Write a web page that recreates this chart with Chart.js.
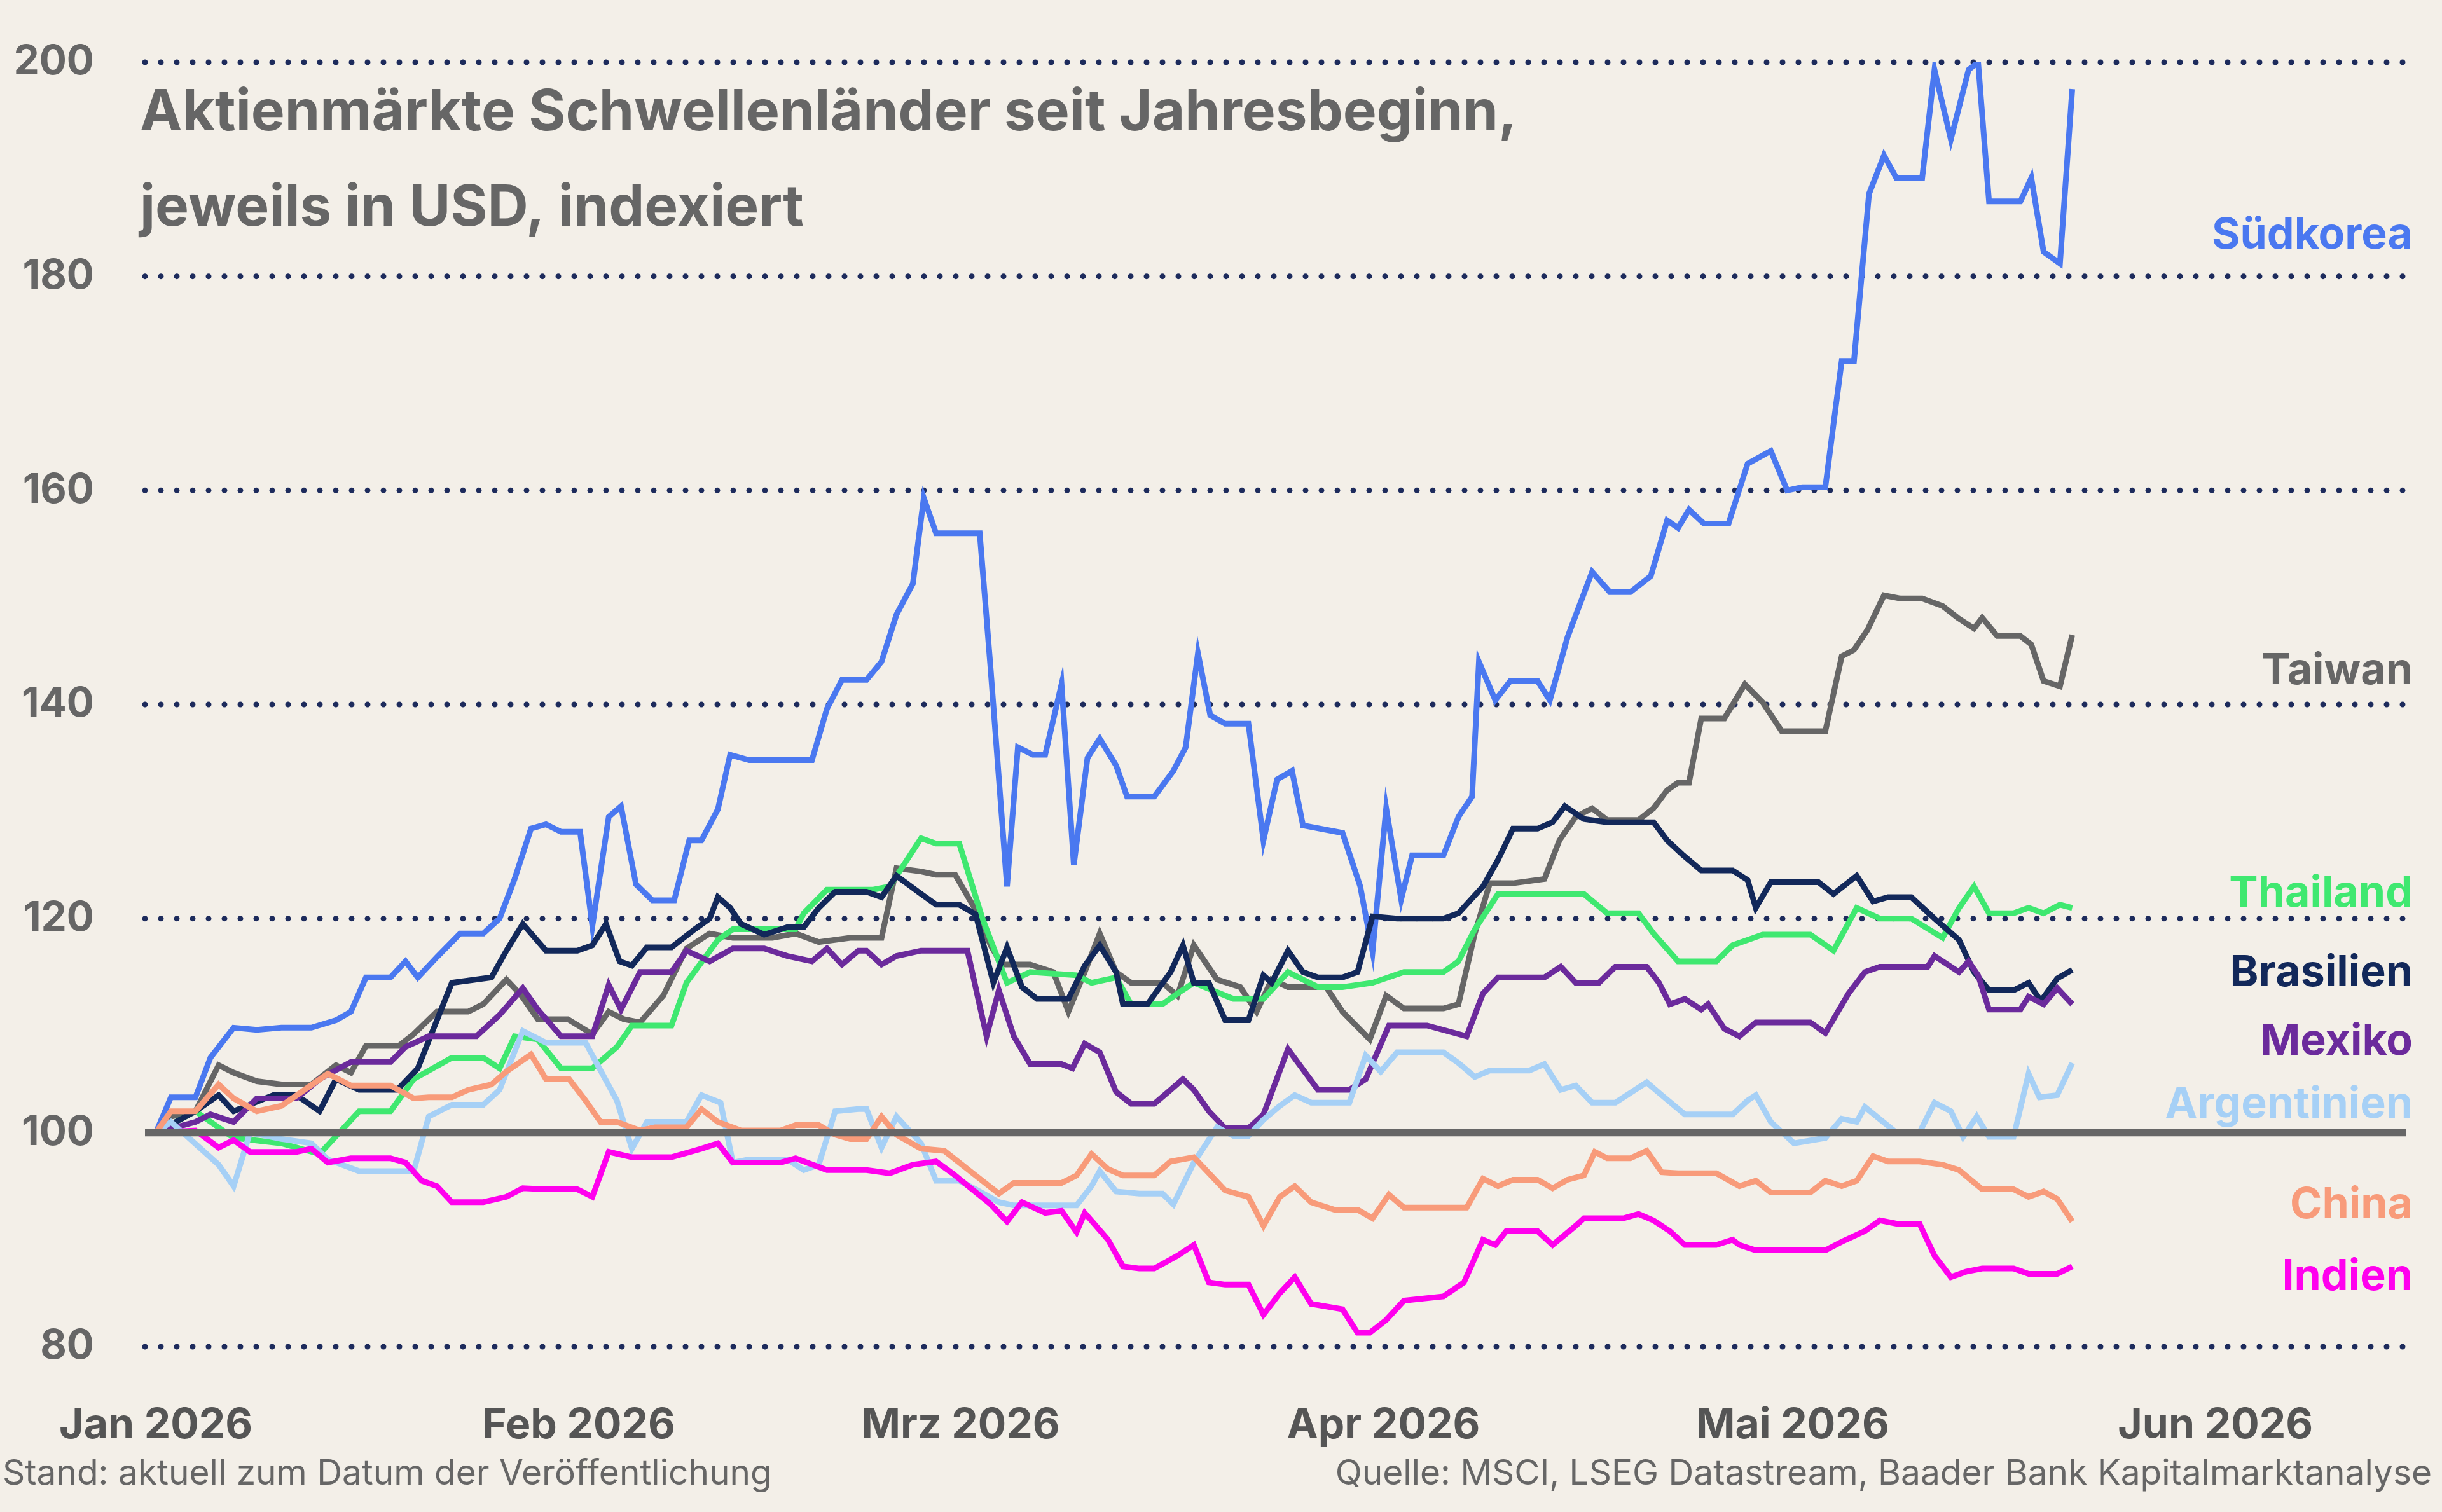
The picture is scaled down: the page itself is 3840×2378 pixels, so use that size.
<!DOCTYPE html>
<html>
<head>
<meta charset="utf-8">
<script src="https://cdn.jsdelivr.net/npm/chart.js@4"></script>
<style>
  html, body { margin: 0; padding: 0; background: #f3efe8; }
  canvas { display: block; }
</style>
</head>
<body>
<canvas id="chart" width="3840" height="2378"></canvas>
<script>
// x = Tage seit 1. Jan 2026, y = Index (Jahresbeginn = 100)
var monthDays = [0, 31, 59, 90, 120, 151];
var monthLabels = ['Jan 2026', 'Feb 2026', 'Mrz 2026', 'Apr 2026', 'Mai 2026', 'Jun 2026'];
var yTicks = [80, 100, 120, 140, 160, 180, 200];

var suedkorea = [[0,100],[1.1,103.3],[2.9,103.3],[4,107],[5.7,109.8],[7.4,109.6],[9.2,109.8],[11.4,109.8],[13.2,110.5],[14.3,111.3],[15.4,114.5],[17.2,114.5],[18.3,116],[19.2,114.5],[20.6,116.4],[22.3,118.6],[24,118.6],[25.2,120],[26.3,123.7],[27.5,128.4],[28.6,128.8],[29.7,128.1],[31.1,128.1],[32,119.3],[33.2,129.5],[34.1,130.5],[35.2,123.2],[36.4,121.7],[38,121.7],[39.1,127.3],[40,127.3],[41.2,130.2],[42.1,135.3],[43.5,134.8],[48.1,134.8],[49.2,139.6],[50.3,142.3],[52.1,142.3],[53.2,144],[54.3,148.4],[55.5,151.3],[56.3,159.3],[57.2,156],[60.4,156],[61.2,143.3],[62.4,123],[63.2,136],[64.3,135.3],[65.2,135.3],[66.4,141.9],[67.3,125],[68.3,135],[69.2,136.8],[70.4,134.3],[71.2,131.4],[73.2,131.4],[74.6,133.8],[75.5,136],[76.4,144.8],[77.3,139],[78.4,138.2],[80.1,138.2],[81.2,127.3],[82.2,133],[83.3,133.8],[84.1,128.7],[87,128],[88.3,123],[89.2,116.9],[90.2,130.3],[91.3,121.8],[92.1,125.9],[94.4,125.9],[95.5,129.5],[96.5,131.4],[97,144],[98.2,140.4],[99.3,142.2],[101.3,142.2],[102.2,140.4],[103.5,146.3],[105.3,152.4],[106.6,150.5],[108.1,150.5],[109.6,152],[110.8,157.2],[111.6,156.5],[112.4,158.2],[113.5,156.9],[115.3,156.9],[116.7,162.5],[118.4,163.7],[119.6,160],[120.7,160.3],[122.4,160.3],[123.6,172.1],[124.5,172.1],[125.6,187.7],[126.7,191.3],[127.6,189.2],[129.5,189.2],[130.4,199.3],[131.6,192.8],[132.9,199.3],[133.6,200],[134.4,187],[136.7,187],[137.5,189.2],[138.4,182.3],[139.6,181.2],[140.5,197.5]];

var taiwan = [[0,100],[1.1,101.5],[2.9,102],[4.6,106.3],[5.7,105.6],[7.4,104.8],[9.2,104.5],[11.4,104.5],[13.2,106.3],[14.3,105.6],[15.4,108.1],[17.8,108.1],[18.9,109.2],[20.6,111.3],[22.9,111.3],[24,112],[25.7,114.3],[26.8,112.8],[28,110.6],[30.2,110.6],[32,109.2],[33.2,111.3],[34.3,110.6],[35.5,110.3],[37.2,112.8],[38.9,117.2],[40.6,118.6],[42.3,118.2],[45.2,118.2],[46.9,118.6],[48.6,117.8],[50.9,118.2],[53.2,118.2],[54.3,124.7],[56.1,124.4],[57.2,124.1],[58.6,124.1],[60.1,120.8],[61.2,117.5],[62,115.7],[64.1,115.7],[65.8,115],[66.9,111.3],[68.1,115],[69.2,118.6],[70.4,115],[71.5,114],[73.8,114],[74.9,112.8],[76.1,117.5],[77.8,114.3],[79.5,113.6],[80.7,111.3],[81.8,114.3],[83,113.6],[85.8,113.6],[87,111.3],[89,108.7],[90.2,112.8],[91.5,111.6],[94.4,111.6],[95.5,112],[96.7,118.6],[97.8,123.3],[99.5,123.3],[101.8,123.7],[102.9,127.3],[104.1,129.5],[105.3,130.3],[106.4,129.2],[108.7,129.2],[109.8,130.3],[110.8,132],[111.6,132.7],[112.4,132.7],[113.3,138.7],[115,138.7],[116.5,141.9],[117.8,140.2],[119.2,137.5],[122.4,137.5],[123.6,144.5],[124.5,145.1],[125.5,147],[126.7,150.2],[127.9,149.9],[129.5,149.9],[131,149.2],[132.1,148.1],[133.3,147.1],[133.9,148.1],[135,146.4],[136.7,146.4],[137.5,145.6],[138.4,142.2],[139.6,141.7],[140.5,146.5]];

var thailand = [[0,100],[2.9,102],[5.7,99.5],[9.2,99],[12,98],[14.9,102],[17.2,102],[18.9,105],[21.7,107],[24,107],[25.2,106],[26.3,109],[28,108.7],[29.7,106],[32,106],[33.8,108],[34.9,110],[37.8,110],[38.9,114],[41.2,118],[42.3,119],[46.9,119],[47.5,120.5],[49.2,122.7],[52.6,122.7],[53.8,123],[56.1,127.5],[57.2,127],[58.9,127],[60.6,120],[62.4,114],[64.1,115],[67.5,114.7],[68.6,114],[70.4,114.5],[71.5,112],[73.8,112],[74.9,113],[76.1,114],[79,112.5],[81.2,112.5],[83,115],[85.2,113.6],[87,113.6],[89.2,114],[91.5,115],[94.4,115],[95.5,116],[96.7,119],[98.4,122.3],[104.7,122.3],[106.4,120.5],[108.7,120.5],[109.8,118.6],[111.6,116],[114.4,116],[115.6,117.5],[117.8,118.5],[121.3,118.5],[123,117],[124.7,121],[126.4,120],[128.7,120],[131,118.2],[132.2,121],[133.3,123],[134.4,120.5],[136.2,120.5],[137.3,121],[138.4,120.5],[139.6,121.3],[140.5,121]];

var brasilien = [[0,100],[2.9,102],[4.6,103.5],[5.7,102],[8.6,103.5],[10.3,103.5],[12,102],[13.2,105],[14.9,104],[17.7,104],[19.2,106],[20.6,110.5],[21.7,114],[24.6,114.5],[25.7,117],[26.9,119.5],[28.6,117],[30.9,117],[32,117.5],[33,119.5],[34,116],[34.9,115.6],[36,117.3],[37.8,117.3],[39.5,119],[40.6,120],[41.2,122],[42.1,121],[42.9,119.5],[44.6,118.5],[46.3,119.2],[47.5,119.2],[48.6,121],[49.8,122.5],[52.1,122.5],[53.2,122],[54.3,124],[56.1,122.3],[57.2,121.3],[58.9,121.3],[60.1,120.4],[61.4,114],[62.4,117.3],[63.5,113.6],[64.6,112.5],[66.9,112.5],[68.1,115.6],[69.2,117.5],[70.4,115],[70.9,112],[72.7,112],[74.4,115],[75.3,117.5],[76.1,114],[77.2,114],[78.4,110.5],[80.1,110.5],[81.2,114.7],[81.8,114],[83,117],[84.1,115],[85.2,114.5],[87,114.5],[88.1,115],[89.2,120.2],[91,120],[94.4,120],[95.5,120.5],[97.3,123],[98.4,125.5],[99.5,128.4],[101.3,128.4],[102.4,129],[103.3,130.5],[104.7,129.3],[106.4,129],[109.8,129],[110.8,127.3],[111.9,126],[113.3,124.5],[115.6,124.5],[116.7,123.6],[117.3,121],[118.4,123.4],[121.9,123.4],[123,122.3],[124.7,124],[125.9,121.6],[127,122],[128.7,122],[130.4,120],[132.2,118],[133.3,115],[134.4,113.3],[136.2,113.3],[137.3,114],[138.2,112.3],[139.4,114.4],[140.5,115.2]];

var mexiko = [[0,100],[2.9,101],[4,101.7],[5.7,101],[7.4,103.2],[10.3,103.2],[12,105],[14.3,106.6],[17.2,106.6],[18.3,108],[20,109],[23.5,109],[25.2,111],[26.9,113.5],[28,111.5],[29.7,109],[32,109],[33.2,113.8],[34.1,111.5],[35.5,115],[37.8,115],[38.9,117],[40.6,116],[42.3,117.2],[44.6,117.2],[46.3,116.5],[48.1,116],[49.2,117.2],[50.3,115.7],[51.5,117],[52.1,117],[53.2,115.7],[54.3,116.5],[56.1,117],[59.5,117],[60.9,109],[61.8,113.3],[62.9,109],[64.1,106.4],[66.4,106.4],[67.2,106],[68.1,108.3],[69.2,107.5],[70.4,103.8],[71.5,102.7],[73.2,102.7],[74.4,104],[75.3,105],[76.1,104],[77.2,102],[78.4,100.4],[80.1,100.4],[81.2,101.7],[83,107.8],[85.2,104],[87.5,104],[88.7,105],[90.4,110],[93.2,110],[96.1,109],[97.3,113],[98.4,114.5],[101.8,114.5],[103,115.5],[104.1,114],[105.8,114],[107,115.5],[109.3,115.5],[110.2,114],[111,112],[112.1,112.5],[113.3,111.5],[113.8,112],[115,109.7],[116.1,109],[117.3,110.3],[121.3,110.3],[122.4,109.3],[124.1,113],[125.3,115],[126.4,115.5],[129.9,115.5],[130.4,116.5],[132.2,115],[132.9,116],[133.6,114.7],[134.4,111.5],[136.7,111.5],[137.3,112.7],[138.4,112],[139.4,113.5],[140.5,112]];

var argentinien = [[0,100],[1.1,101],[4.6,97],[5.7,95],[6.9,100],[9.2,99.4],[11.4,99],[12.6,97.5],[14.9,96.4],[18.9,96.4],[20,101.5],[21.7,102.6],[24,102.6],[25.2,104],[26.9,109.5],[28.6,108.4],[31.5,108.4],[32.6,105.8],[33.8,103],[34.9,98.5],[36,101],[38.9,101],[40,103.5],[41.4,102.8],[42.3,97.2],[43.5,97.5],[46.3,97.5],[47.5,96.5],[48.6,97],[49.8,102],[51.5,102.2],[52.1,102.2],[53.2,98.6],[54.3,101.5],[56.1,99],[57.2,95.5],[58.9,95.5],[60.1,94.7],[61.8,93.5],[62.9,93.2],[67.5,93.2],[68.6,95],[69.2,96.4],[70.4,94.5],[72.1,94.3],[73.8,94.3],[74.6,93.3],[76.1,97.2],[77.8,100.5],[79,99.7],[80.1,99.7],[81.2,101.2],[82.4,102.5],[83.5,103.5],[84.7,102.8],[87.5,102.8],[88.7,107.2],[89.8,105.7],[91,107.5],[94.4,107.5],[95.5,106.5],[96.7,105.2],[97.8,105.8],[100.7,105.8],[101.8,106.4],[103,104],[104.1,104.4],[105.3,102.8],[107,102.8],[109.3,104.7],[110.4,103.5],[112.1,101.7],[115.6,101.7],[116.7,103],[117.3,103.5],[118.4,101],[120.1,99],[122.4,99.5],[123.6,101.3],[124.7,101],[125.3,102.4],[127.6,100],[129.3,100],[130.4,102.8],[131.6,102],[132.5,99.6],[133.5,101.5],[134.4,99.6],[136.2,99.6],[137.3,105.5],[138.1,103.3],[139.4,103.5],[140.5,106.5]];

var china = [[0,100],[1.1,102],[2.9,102],[4.6,104.5],[5.7,103.2],[7.4,102],[9.2,102.5],[10.9,104],[12.6,105.5],[14.3,104.4],[17.2,104.4],[18.9,103.2],[20,103.3],[21.7,103.3],[22.9,104],[24.6,104.5],[25.7,105.7],[27.5,107.3],[28.6,105],[30.3,105],[31.5,103],[32.6,101],[33.8,101],[35.5,100.2],[36.6,100.5],[38.9,100.5],[40,102.2],[41.2,101],[42.9,100.2],[45.8,100.2],[46.9,100.7],[48.6,100.7],[49.8,99.8],[50.9,99.4],[52.1,99.4],[53.2,101.5],[54.3,99.8],[56.1,98.5],[57.8,98.3],[60.1,96],[61.8,94.3],[62.9,95.3],[66.4,95.3],[67.5,96],[68.6,98],[69.8,96.6],[70.9,96],[73.2,96],[74.4,97.3],[76.1,97.7],[78.4,94.6],[80.1,94],[81.2,91.3],[82.4,94],[83.5,95],[84.7,93.5],[86.4,92.8],[88.1,92.8],[89.2,92],[90.4,94.2],[91.5,93],[93.2,93],[96.1,93],[97.3,95.7],[98.4,95],[99.5,95.6],[101.3,95.6],[102.4,94.8],[103.5,95.6],[104.7,96],[105.5,98.2],[106.4,97.6],[108.1,97.6],[109.3,98.3],[110.4,96.3],[111.6,96.2],[114.4,96.2],[116.1,95],[117.3,95.5],[118.4,94.4],[121.3,94.4],[122.4,95.5],[123.6,95],[124.7,95.5],[125.9,97.8],[127,97.3],[129.3,97.3],[131,97],[132.2,96.5],[133.9,94.7],[136.2,94.7],[137.3,94],[138.4,94.5],[139.4,93.8],[140.5,91.7]];

var indien = [[0,100],[2.9,100.2],[4.6,98.6],[5.7,99.3],[6.9,98.2],[10.3,98.2],[11.4,98.5],[12.6,97.2],[14.3,97.6],[17.2,97.6],[18.3,97.2],[19.5,95.5],[20.6,95],[21.7,93.5],[24,93.5],[25.7,94],[26.9,94.8],[28.6,94.7],[30.9,94.7],[32,94],[33.2,98.2],[34.9,97.7],[37.8,97.7],[40,98.5],[41.2,99],[42.3,97.2],[45.8,97.2],[46.9,97.6],[49.2,96.5],[52.1,96.5],[53.8,96.2],[55.5,97],[57.2,97.3],[58.4,96.2],[61.2,93.3],[62.4,91.7],[63.5,93.5],[65.2,92.5],[66.4,92.7],[67.5,90.7],[68.1,92.5],[69.8,90],[70.9,87.5],[72.1,87.3],[73.2,87.3],[74.9,88.5],[76.1,89.5],[77.2,86],[78.4,85.8],[80.1,85.8],[81.2,83],[82.4,85],[83.5,86.5],[84.7,84],[87,83.5],[88.1,81.3],[89,81.3],[90.2,82.5],[91.5,84.3],[94.4,84.7],[95.9,86],[97.3,90],[98.2,89.5],[99,90.8],[101.3,90.8],[102.4,89.5],[104.1,91.3],[104.7,92],[107.6,92],[108.7,92.4],[109.8,91.8],[111,90.8],[112.1,89.5],[114.4,89.5],[115.6,90],[116.1,89.5],[117.3,89],[122.4,89],[123.6,89.8],[125.3,90.8],[126.4,91.8],[127.6,91.5],[129.3,91.5],[130.4,88.5],[131.6,86.5],[132.7,87],[133.9,87.3],[136.2,87.3],[137.3,86.8],[139.4,86.8],[140.5,87.5]];

var seriesNames = ['Südkorea', 'Taiwan', 'Thailand', 'Brasilien', 'Mexiko', 'Argentinien', 'China', 'Indien'];
var seriesData = [suedkorea, taiwan, thailand, brasilien, mexiko, argentinien, china, indien];
var seriesColors = ['#4a78f0', '#666666', '#3fe870', '#12285a', '#6b2a9c', '#a6d0f6', '#f89b7a', '#ff00ee'];
var labelValues = [183.8, 143.1, 122.3, 114.9, 108.5, 102.6, 93.2, 86.5];

var FONT = 'Inter, "Liberation Sans", sans-serif';

var datasets = [];
for (var i = seriesData.length - 1; i >= 0; i--) {
    datasets.push({
        label: seriesNames[i],
        data: seriesData[i].map(function (p) { return { x: p[0], y: p[1] }; }),
        borderColor: seriesColors[i],
        borderWidth: 9,
        pointRadius: 0,
        tension: 0
    });
}

var decorations = {
    id: 'decorations',
    beforeDatasetsDraw: function (chart) {
        var ctx = chart.ctx, area = chart.chartArea, y = chart.scales.y;
        ctx.save();
        ctx.strokeStyle = '#1d2b5c';
        ctx.lineWidth = 9;
        ctx.lineCap = 'round';
        ctx.setLineDash([0, 25]);
        yTicks.forEach(function (v) {
            if (v == 100) return;
            var py = y.getPixelForValue(v);
            ctx.beginPath();
            ctx.moveTo(area.left, py);
            ctx.lineTo(area.right, py);
            ctx.stroke();
        });
        ctx.setLineDash([]);

        // y-Achsenbeschriftung
        ctx.fillStyle = '#666666';
        ctx.font = 'bold 64px ' + FONT;
        ctx.textAlign = 'right';
        ctx.textBaseline = 'middle';
        yTicks.forEach(function (v) {
            ctx.fillText(String(v), 148, y.getPixelForValue(v));
        });
        ctx.restore();
    },
    afterDatasetsDraw: function (chart) {
        var ctx = chart.ctx, area = chart.chartArea, y = chart.scales.y;
        ctx.save();
        // Nulllinie bei 100
        var p100 = y.getPixelForValue(100);
        ctx.strokeStyle = '#666666';
        ctx.lineWidth = 12;
        ctx.beginPath();
        ctx.moveTo(area.left, p100);
        ctx.lineTo(area.right, p100);
        ctx.stroke();

        // Titel
        ctx.fillStyle = '#666666';
        ctx.font = 'bold 89px ' + FONT;
        ctx.textAlign = 'left';
        ctx.textBaseline = 'middle';
        ctx.fillText('Aktienmärkte Schwellenländer seit Jahresbeginn,', 220, 178);
        ctx.fillText('jeweils in USD, indexiert', 220, 328);

        // Serienbeschriftungen rechts
        ctx.font = 'bold 68px ' + FONT;
        ctx.textAlign = 'right';
        for (var i = 0; i < seriesNames.length; i++) {
            ctx.fillStyle = seriesColors[i];
            ctx.fillText(seriesNames[i], 3794, y.getPixelForValue(labelValues[i]));
        }

        // Fußzeile
        ctx.fillStyle = '#666666';
        ctx.font = '55px ' + FONT;
        ctx.textAlign = 'left';
        ctx.fillText('Stand: aktuell zum Datum der Veröffentlichung', 4, 2318);
        ctx.textAlign = 'right';
        ctx.fillText('Quelle: MSCI, LSEG Datastream, Baader Bank Kapitalmarktanalyse', 3824, 2318);
        ctx.restore();
    }
};

new Chart(document.getElementById('chart').getContext('2d'), {
    type: 'line',
    data: { datasets: datasets },
    plugins: [decorations],
    options: {
        responsive: false,
        animation: false,
        devicePixelRatio: 1,
        layout: { padding: { top: 98, right: 56, bottom: 0, left: 0 } },
        plugins: { legend: { display: false }, tooltip: { enabled: false } },
        scales: {
            x: {
                type: 'linear',
                min: -0.8,
                max: 165,
                grid: { display: false },
                border: { display: false },
                afterFit: function (s) { s.height = 260; },
                afterBuildTicks: function (s) {
                    s.ticks = monthDays.map(function (d) { return { value: d }; });
                },
                ticks: {
                    padding: 77,
                    autoSkip: false,
                    maxRotation: 0,
                    color: '#555555',
                    font: { family: FONT, size: 66, weight: 'bold' },
                    callback: function (v) { return monthLabels[monthDays.indexOf(v)]; }
                }
            },
            y: {
                min: 80,
                max: 200,
                grid: { display: false },
                border: { display: false },
                afterFit: function (s) { s.width = 228; },
                ticks: { display: false }
            }
        }
    }
});
</script>
</body>
</html>
